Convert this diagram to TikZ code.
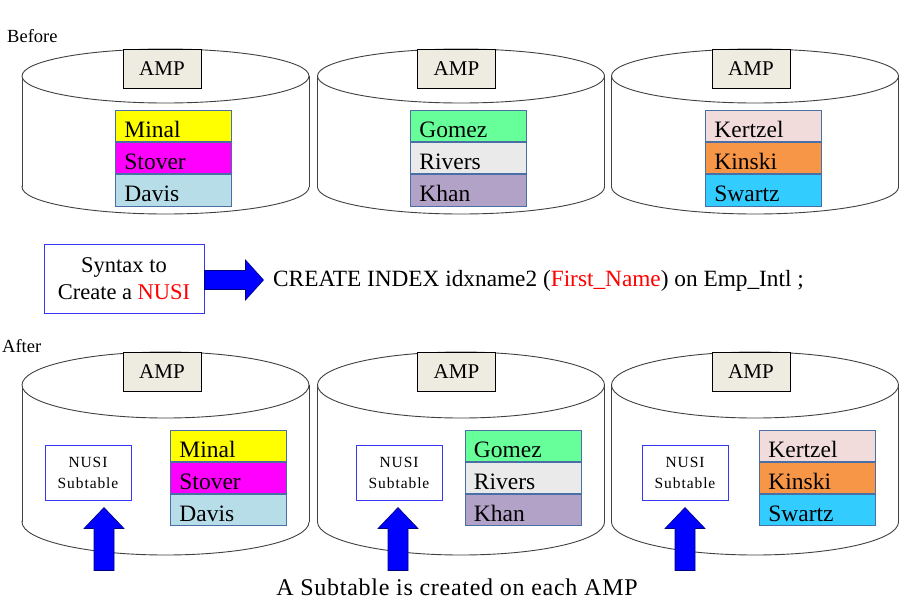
\documentclass[tikz,border=0pt]{standalone}
\usepackage{fontspec}
\setmainfont{Liberation Serif}
\newfontfamily\nusifont[LetterSpace=6]{Liberation Serif}
\newfontfamily\capfont[LetterSpace=3]{Liberation Serif}
\usetikzlibrary{calc}
\definecolor{cMinal}{HTML}{FFFF00}
\definecolor{cStover}{HTML}{FF00FF}
\definecolor{cDavis}{HTML}{B7DEE8}
\definecolor{cGomez}{HTML}{66FF99}
\definecolor{cRivers}{HTML}{EAEAEA}
\definecolor{cKhan}{HTML}{B3A2C7}
\definecolor{cKertzel}{HTML}{F2DCDB}
\definecolor{cKinski}{HTML}{F79646}
\definecolor{cSwartz}{HTML}{33CCFF}
\definecolor{tblline}{HTML}{4A6FA5}
\definecolor{ampfill}{HTML}{EEECE1}
\definecolor{boxblue}{HTML}{3636F5}
\definecolor{arrowfill}{HTML}{0000FF}
\definecolor{arrowline}{HTML}{000080}
\definecolor{cylgray}{HTML}{404040}
\newcommand\mycyl[4]{%
  \draw[cylline, fill=white] (#1,#3) ellipse [x radius=143.5, y radius=#4];
  \fill[white] (#1-143.5,#2) rectangle (#1+143.5,#3);
  \draw[cylline] (#1-143.5,#2) -- (#1-143.5,#3) (#1+143.5,#2) -- (#1+143.5,#3);
  \draw[cylline, fill=white] (#1,#2) ellipse [x radius=143.5, y radius=#4];
}
\begin{document}
\begin{tikzpicture}[x=1pt,y=-1pt,
  cylline/.style={draw=cylgray, line width=0.9pt},
  ampbox/.style={draw=black, fill=ampfill, line width=0.9pt, minimum width=78pt, minimum height=39pt, inner sep=0pt, font=\fontsize{21}{24}\selectfont},
  row/.style={draw=tblline, line width=0.8pt, minimum width=116pt, text width=98pt, inner xsep=9pt, inner ysep=0pt, text height=27pt, text depth=4pt, minimum height=31.3pt, align=left, font=\fontsize{23.5}{25}\selectfont},
  nusibox/.style={draw=boxblue, fill=white, line width=1pt, minimum width=86pt, minimum height=55pt, inner sep=0pt, align=center, font=\nusifont\fontsize{15.5}{21}\selectfont},
  synbox/.style={draw=boxblue, fill=white, line width=1pt, minimum width=160pt, minimum height=69pt, inner sep=0pt, align=center, font=\fontsize{22.5}{27}\selectfont},
  blockarrow/.style={fill=arrowfill, draw=arrowline, line width=0.6pt, line join=miter},
  plain/.style={inner sep=0pt}
]
\useasboundingbox (0,0) rectangle (900,600);

% labels
\node[plain, anchor=base west, font=\fontsize{18.5}{22}\selectfont] (before) at (7,42) {Before};
\node[plain, anchor=base west, font=\fontsize{18.5}{22}\selectfont] (after) at (2,352) {After};

% ---------- top cylinders ----------
\mycyl{165.5}{76}{187}{27}
\mycyl{461}{76}{187}{27}
\mycyl{755}{76}{187}{27}

\node[ampbox] (amp1) at (162,68.5) {AMP};
\node[ampbox] (amp2) at (456.5,68.5) {AMP};
\node[ampbox] (amp3) at (751,68.5) {AMP};

\node[row, fill=cMinal, anchor=north west] (t1a) at (115,110) {Minal};
\node[row, fill=cStover, anchor=north] (t1b) at (t1a.south) {Stover};
\node[row, fill=cDavis, anchor=north] (t1c) at (t1b.south) {Davis};

\node[row, fill=cGomez, anchor=north west] (t2a) at (410,110) {Gomez};
\node[row, fill=cRivers, anchor=north] (t2b) at (t2a.south) {Rivers};
\node[row, fill=cKhan, anchor=north] (t2c) at (t2b.south) {Khan};

\node[row, fill=cKertzel, anchor=north west] (t3a) at (705,110) {Kertzel};
\node[row, fill=cKinski, anchor=north] (t3b) at (t3a.south) {Kinski};
\node[row, fill=cSwartz, anchor=north] (t3c) at (t3b.south) {Swartz};

% ---------- middle ----------
\node[synbox] (syn) at (124,278.5) {Syntax to\\Create a \textcolor{red}{NUSI}};
\node[plain, anchor=base west, font=\fontsize{23.3}{26}\selectfont] (cmd) at (273,286)
  {CREATE INDEX idxname2 (\textcolor{red}{First\_Name}) on Emp\_Intl ;};
\coordinate (ra) at ($(syn.east)+(0,1.5)$);
\draw[blockarrow] (ra) ++(0,-9.5) -- ++(41,0) -- ++(0,-10.5) -- ++(18,20) -- ++(-18,20) -- ++(0,-10.5) -- ++(-41,0) -- cycle;

% ---------- bottom cylinders ----------
\mycyl{165.5}{385}{522}{33}
\mycyl{461}{385}{522}{33}
\mycyl{755}{385}{522}{33}

\node[ampbox] (amp4) at (162,371.5) {AMP};
\node[ampbox] (amp5) at (456.5,371.5) {AMP};
\node[ampbox] (amp6) at (751,371.5) {AMP};

\node[row, fill=cMinal, anchor=north west] (t4a) at (170,429.5) {Minal};
\node[row, fill=cStover, anchor=north] (t4b) at (t4a.south) {Stover};
\node[row, fill=cDavis, anchor=north] (t4c) at (t4b.south) {Davis};

\node[row, fill=cGomez, anchor=north west] (t5a) at (464.5,429.5) {Gomez};
\node[row, fill=cRivers, anchor=north] (t5b) at (t5a.south) {Rivers};
\node[row, fill=cKhan, anchor=north] (t5c) at (t5b.south) {Khan};

\node[row, fill=cKertzel, anchor=north west] (t6a) at (759,429.5) {Kertzel};
\node[row, fill=cKinski, anchor=north] (t6b) at (t6a.south) {Kinski};
\node[row, fill=cSwartz, anchor=north] (t6c) at (t6b.south) {Swartz};

\node[nusibox] (n1) at (88,472.5) {NUSI\\Subtable};
\node[nusibox] (n2) at (399,472.5) {NUSI\\Subtable};
\node[nusibox] (n3) at (685,472.5) {NUSI\\Subtable};

\coordinate (u1) at ($(n1.south)+(16,7)$);
\coordinate (u2) at ($(n2.south)+(-1,7)$);
\coordinate (u3) at ($(n3.south)+(0,7)$);
\foreach \u in {u1,u2,u3}{
  \draw[blockarrow] (\u) -- ++(20,21) -- ++(-10,0) -- ++(0,42) -- ++(-20,0) -- ++(0,-42) -- ++(-10,0) -- cycle;
}

\node[plain, anchor=base, text depth=0pt, font=\capfont\fontsize{24}{28}\selectfont] (cap) at (457,595) {A Subtable is created on each AMP};
\end{tikzpicture}
\end{document}
